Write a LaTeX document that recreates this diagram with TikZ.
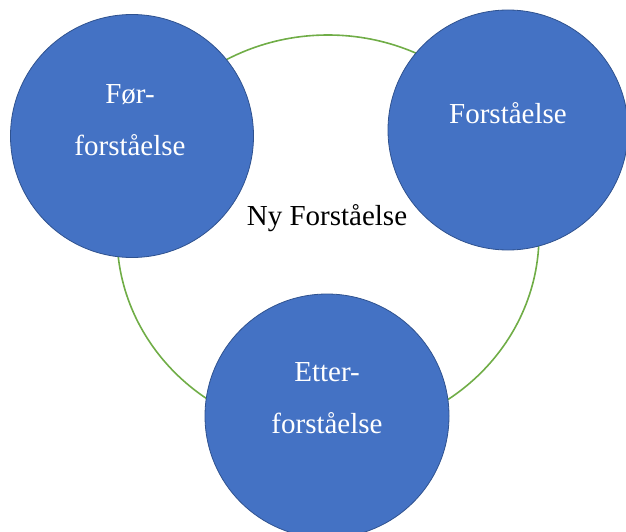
\documentclass[tikz,border=0pt]{standalone}
\usepackage{fontspec}
\setmainfont{Liberation Serif}
\usepackage{xcolor}
\usetikzlibrary{positioning}
\definecolor{BubbleBlue}{RGB}{68,114,196}
\definecolor{BubbleEdge}{RGB}{47,82,143}
\definecolor{RingGreen}{RGB}{112,173,71}
\tikzset{
  bubble/.style={circle, draw=BubbleEdge, line width=0.8pt, fill=BubbleBlue, inner sep=0pt},
  bubbletxt/.style={text=white, align=center, inner sep=0pt, font=\fontsize{29}{52}\selectfont},
  ring/.style={draw=RingGreen, line width=1.6pt},
  midtxt/.style={text=black, inner sep=0pt, font=\fontsize{29}{52}\selectfont},
}

\begin{document}
\begin{tikzpicture}[x=1pt, y=-1pt]
    \useasboundingbox (0,0) rectangle (626,532);
    % the green ring behind the three bubbles
    \coordinate (ringc) at (328,235);
    \draw[ring] (ringc) ellipse [x radius=211, y radius=200];
    % the three bubbles
    \node[bubble, minimum size=243] (fore) at (132,136) {};
    \node[bubble, minimum size=240] (forst) at (508,130) {};
    \node[bubble, minimum size=244] (etter) at (327,416) {};
    % texts (base = last line)
    \node[bubbletxt, anchor=base] (foretxt) at (130,155) {Før-\\forståelse};
    \node[bubbletxt, anchor=base] (forsttxt) at (508,124) {Forståelse};
    \node[bubbletxt, anchor=base] (ettertxt) at (327,433) {Etter-\\forståelse};
    \node[midtxt, anchor=base] (nytxt) at (327,225) {Ny Forståelse};
\end{tikzpicture}
\end{document}
